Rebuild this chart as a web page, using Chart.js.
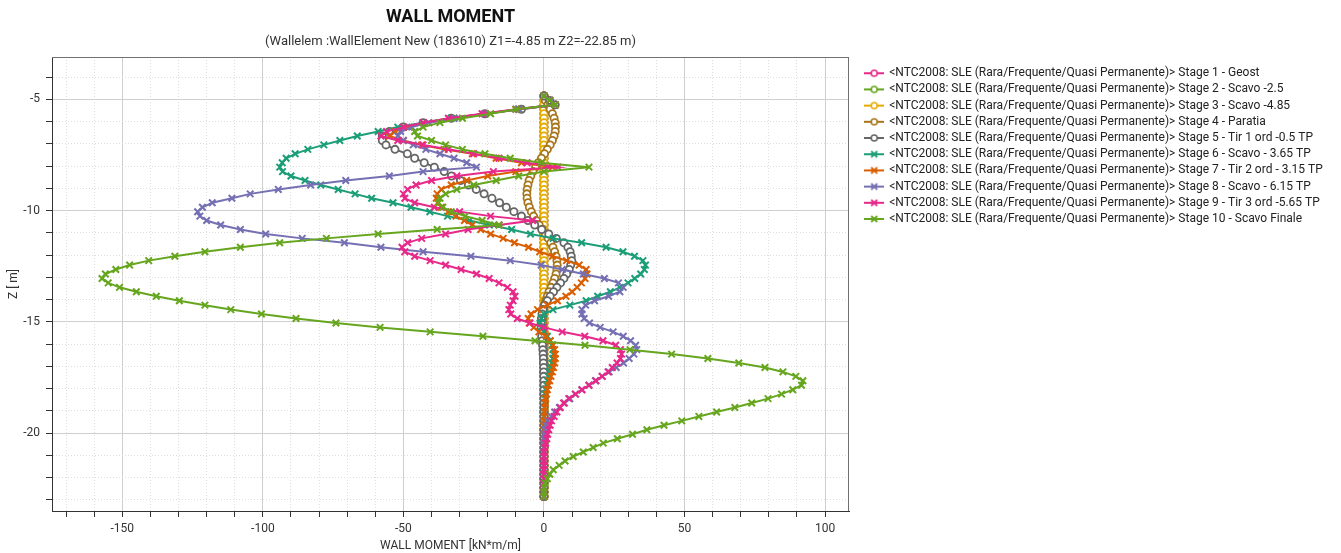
<!DOCTYPE html>
<html>
<head>
<meta charset="utf-8">
<title>Wall moment</title>
<script src="https://cdn.jsdelivr.net/npm/chart.js@4.4.1/dist/chart.umd.min.js"></script>
<style>
  html, body { margin: 0; padding: 0; background: #fff; }
  #wrap { width: 1341px; height: 553px; }
</style>
</head>
<body>
<div id="wrap"><canvas id="momentChart" width="1341" height="553"></canvas></div>
<script>
// Node depths along the wall [m]
const depth = [
  -4.85, -5.05, -5.25, -5.45, -5.65, -5.85, -6.05, -6.25, -6.45, -6.65,
  -6.85, -7.05, -7.25, -7.45, -7.65, -7.85, -8.05, -8.25, -8.45, -8.65,
  -8.85, -9.05, -9.25, -9.45, -9.65, -9.85, -10.05, -10.25, -10.45, -10.65,
  -10.85, -11.05, -11.25, -11.45, -11.65, -11.85, -12.05, -12.25, -12.45, -12.65,
  -12.85, -13.05, -13.25, -13.45, -13.65, -13.85, -14.05, -14.25, -14.45, -14.65,
  -14.85, -15.05, -15.25, -15.45, -15.65, -15.85, -16.05, -16.25, -16.45, -16.65,
  -16.85, -17.05, -17.25, -17.45, -17.65, -17.85, -18.05, -18.25, -18.45, -18.65,
  -18.85, -19.05, -19.25, -19.45, -19.65, -19.85, -20.05, -20.25, -20.45, -20.65,
  -20.85, -21.05, -21.25, -21.45, -21.65, -21.85, -22.05, -22.25, -22.45, -22.65,
  -22.85
];

// Bending moment per stage [kN*m/m], one value per node
const stage1 = [
  0, 0, 0, 0, 0, 0, 0, 0, 0, 0,
  0, 0, 0, 0, 0, 0, 0, 0, 0, 0,
  0, 0, 0, 0, 0, 0, 0, 0, 0, 0,
  0, 0, 0, 0, 0, 0, 0, 0, 0, 0,
  0, 0, 0, 0, 0, 0, 0, 0, 0, 0,
  0, 0, 0, 0, 0, 0, 0, 0, 0, 0,
  0, 0, 0, 0, 0, 0, 0, 0, 0, 0,
  0, 0, 0, 0, 0, 0, 0, 0, 0, 0,
  0, 0, 0, 0, 0, 0, 0, 0, 0, 0,
  0
];
const stage2 = [
  0, 0, 0, 0, 0, 0, 0, 0, 0, 0,
  0, 0, 0, 0, 0, 0, 0, 0, 0, 0,
  0, 0, 0, 0, 0, 0, 0, 0, 0, 0,
  0, 0, 0, 0, 0, 0, 0, 0, 0, 0,
  0, 0, 0, 0, 0, 0, 0, 0, 0, 0,
  0, 0, 0, 0, 0, 0, 0, 0, 0, 0,
  0, 0, 0, 0, 0, 0, 0, 0, 0, 0,
  0, 0, 0, 0, 0, 0, 0, 0, 0, 0,
  0, 0, 0, 0, 0, 0, 0, 0, 0, 0,
  0
];
const stage3 = [
  0, 0, 0, 0, 0, 0, 0, 0, 0, 0,
  0, 0, 0, 0, 0, 0, 0, 0, 0, 0,
  0, 0, 0, 0, 0, 0, 0, 0, 0, 0,
  0, 0, 0, 0, 0, 0, 0, 0, 0, 0,
  0, 0, 0, 0, 0, 0, 0, 0, 0, 0,
  0, 0, 0, 0, 0, 0, 0, 0, 0, 0,
  0, 0, 0, 0, 0, 0, 0, 0, 0, 0,
  0, 0, 0, 0, 0, 0, 0, 0, 0, 0,
  0, 0, 0, 0, 0, 0, 0, 0, 0, 0,
  0
];
const stage4 = [
  0, 0.5, 1.3, 2.2, 3.0, 3.6, 4.0, 4.1, 4.0, 3.6,
  3.0, 2.2, 1.2, 0.2, -0.9, -2.0, -3.0, -3.9, -4.7, -5.3,
  -5.7, -6.0, -6.1, -6.0, -5.7, -5.2, -4.5, -3.7, -2.7, -1.7,
  -0.6, 0.5, 1.5, 2.4, 3.2, 3.8, 4.3, 4.6, 4.7, 4.6,
  4.3, 3.8, 3.2, 2.5, 1.8, 1.2, 0.6, 0.2, -0.1, -0.3,
  -0.4, -0.4, -0.4, -0.3, -0.3, -0.2, -0.2, -0.1, -0.1, -0.1,
  0, 0, 0, 0, 0, 0, 0, 0, 0, 0,
  0, 0, 0, 0, 0, 0, 0, 0, 0, 0,
  0, 0, 0, 0, 0, 0, 0, 0, 0, 0,
  0
];
const stage5 = [
  0, 2, 4, -8, -21, -33, -43, -50, -55, -57.5,
  -57.5, -56.2, -53, -48.6, -46, -42.6, -39, -35.5, -32.9, -29.7,
  -26.9, -24.1, -21.3, -18.5, -15.8, -13.4, -10.7, -8, -5.7, -3.3,
  -0.8, 1.7, 4.4, 7.1, 8.5, 9.3, 9.7, 9.9, 9.5, 9.0,
  8.1, 7.1, 5.9, 4.6, 3.4, 2.2, 1.2, 0.2, -0.3, -0.7,
  -0.9, -1.0, -1.0, -0.9, -0.8, -0.6, -0.5, -0.4, -0.3, -0.2,
  -0.2, -0.1, -0.1, -0.1, 0, 0, 0, 0, 0, 0,
  0, 0, 0, 0, 0, 0, 0, 0, 0, 0,
  0, 0, 0, 0, 0, 0, 0, 0, 0, 0,
  0
];
const stage6 = [
  0, 2, 4, -9, -21, -33, -43, -52, -59, -66.4,
  -72.6, -78.3, -84, -88.5, -91.7, -93.1, -94, -93, -90, -85,
  -79.4, -73.2, -67.2, -61.3, -53.7, -47.3, -40.6, -34.3, -26.5, -19.4,
  -11.5, -4.8, 3.3, 13.4, 22.1, 28.1, 32.2, 35.2, 36.1, 35.7,
  34.4, 32.3, 29.9, 27, 23.6, 19.1, 15, 9.2, 3.2, 0,
  -0.9, -1.4, -1, 0, 1.2, 2.2, 2.8, 3.2, 3.3, 3.1,
  2.8, 2.4, 2.0, 1.6, 1.3, 1.0, 0.7, 0.5, 0.4, 0.3,
  0.2, 0.2, 0.1, 0.1, 0, 0, 0, 0, 0, 0,
  0, 0, 0, 0, 0, 0, 0, 0, 0, 0,
  0
];
const stage7 = [
  0, 2, 4, -9, -21, -32, -41, -48, -53, -55,
  -50, -43.5, -35.5, -25.5, -17, -8, 3, -10, -20, -27.5,
  -33, -36.5, -38, -38.3, -37.8, -36.5, -34, -31.3, -28.3, -25.5,
  -22.5, -19, -14.5, -10.5, -5.5, -1.5, 3, 8, 12.5, 15,
  15.3, 14.6, 13.3, 11.8, 10, 7.8, 4.8, 1.2, -2.3, -4.6,
  -5.6, -5.2, -3.6, -1.8, 0.8, 2.2, 3.2, 3.8, 4.0, 4.0,
  3.8, 3.4, 3.0, 2.5, 2.0, 1.6, 1.2, 0.9, 0.6, 0.4,
  0.3, 0.2, 0.1, 0, 0, 0, 0, 0, 0, 0,
  0, 0, 0, 0, 0, 0, 0, 0, 0, 0,
  0
];
const stage8 = [
  0, 2, 4, -9, -21, -32, -41, -47, -51, -52,
  -50, -46.5, -42, -37, -32, -27.5, -24, -43, -55, -70.5,
  -83, -94.5, -104.5, -111, -118, -121.5, -123.2, -122.4, -120, -115,
  -108, -99, -86, -71, -58, -43, -26, -12, -1, 6.5,
  14, 21.5, 26.5, 28.2, 27, 23, 18, 14.8, 13.5, 13.5,
  14.3, 16.2, 20, 24.6, 28.2, 30.8, 32.6, 33, 32, 30.3,
  28.3, 25.7, 23.2, 20.7, 18.3, 16, 13.5, 11.2, 9.2, 7.3,
  5.5, 3.8, 2.6, 1.4, 0.7, 0.3, 0.1, 0, 0, 0,
  0, 0, 0, 0, 0, 0, 0, 0, 0, 0,
  0
];
const stage9 = [
  0, 2, 4, -10, -22, -34, -43, -50, -56, -58,
  -52, -43, -34, -25, -16, -6, 5, -18, -31, -40,
  -45.5, -48.5, -50, -49.5, -46, -39, -30, -19, -4, -16,
  -27, -35, -43.5, -48.5, -50.5, -49.5, -46, -40.5, -35, -29.5,
  -24, -19.5, -16, -13, -11, -10.3, -11, -12, -12.5, -11.8,
  -9.5, -5, 0, 6.5, 14.5, 21, 25.5, 27.2, 27.6, 27.2,
  26, 24.3, 22.8, 20.7, 18.5, 16, 13.5, 11.2, 8.8, 7,
  5.8, 4.6, 3.6, 2.7, 2.2, 1.7, 1.3, 1.0, 0.6, 0.3,
  0.1, 0, 0, 0, 0, 0, 0, 0, 0, 0,
  0
];
const stage10 = [
  0, 2, 4, -10, -19, -29, -37, -43, -46, -45,
  -40, -35, -29, -21, -12, -1, 16, 0, -9, -17,
  -25, -31, -35, -37, -37.5, -36, -33, -28, -22, -16,
  -38, -59, -77.4, -94, -108, -120.6, -131.3, -140.6, -147.4, -152.3,
  -156, -157.2, -155, -151, -145, -137.9, -129.7, -120.6, -111.4, -100.5,
  -88.2, -74, -58.3, -40.5, -21.7, -3.2, 14.6, 30.6, 45.4, 58.3,
  69.3, 78.6, 85, 89.6, 92.1, 91.6, 88.5, 84.5, 79.7, 73.9,
  67.9, 61.4, 55.1, 49, 42.7, 36.6, 31.5, 26.1, 21.1, 17.5,
  14, 10.4, 7.5, 5.4, 3.3, 2.1, 1.2, 0.4, 0.1, 0,
  0
];

const stageNames = [
  '<NTC2008: SLE (Rara/Frequente/Quasi Permanente)> Stage 1 - Geost',
  '<NTC2008: SLE (Rara/Frequente/Quasi Permanente)> Stage 2 - Scavo -2.5',
  '<NTC2008: SLE (Rara/Frequente/Quasi Permanente)> Stage 3 - Scavo -4.85',
  '<NTC2008: SLE (Rara/Frequente/Quasi Permanente)> Stage 4 - Paratia',
  '<NTC2008: SLE (Rara/Frequente/Quasi Permanente)> Stage 5 - Tir 1 ord -0.5 TP',
  '<NTC2008: SLE (Rara/Frequente/Quasi Permanente)> Stage 6 - Scavo - 3.65 TP',
  '<NTC2008: SLE (Rara/Frequente/Quasi Permanente)> Stage 7 - Tir 2 ord - 3.15 TP',
  '<NTC2008: SLE (Rara/Frequente/Quasi Permanente)> Stage 8 - Scavo - 6.15 TP',
  '<NTC2008: SLE (Rara/Frequente/Quasi Permanente)> Stage 9 - Tir 3 ord -5.65 TP',
  '<NTC2008: SLE (Rara/Frequente/Quasi Permanente)> Stage 10 - Scavo Finale'
];
const stageColors = ['#e7298a', '#66a61e', '#e6ab02', '#a6761d', '#666666',
                     '#1b9e77', '#d95f02', '#7570b3', '#e7298a', '#66a61e'];
const stageMarkers = ['circle', 'circle', 'circle', 'circle', 'circle',
                      'crossRot', 'crossRot', 'crossRot', 'crossRot', 'crossRot'];

// Axis ticks (minor every 10 / 1, labelled every 50 / 5)
const xTicks = [-170, -160, -150, -140, -130, -120, -110, -100, -90, -80, -70, -60, -50, -40,
                -30, -20, -10, 0, 10, 20, 30, 40, 50, 60, 70, 80, 90, 100];
const xLabels = [-150, -100, -50, 0, 50, 100];
const yTicks = [-23, -22, -21, -20, -19, -18, -17, -16, -15, -14, -13, -12, -11, -10,
                -9, -8, -7, -6, -5, -4];
const yLabels = [-20, -15, -10, -5];

const stages = [stage1, stage2, stage3, stage4, stage5, stage6, stage7, stage8, stage9, stage10];

const FONT = 'Roboto, "Liberation Sans", sans-serif';
Chart.defaults.font.family = FONT;
Chart.defaults.color = '#333';

// little line+marker icons for the legend
function legendIcon(color, marker) {
  const c = document.createElement('canvas');
  c.width = 20; c.height = 10;
  const g = c.getContext('2d');
  g.strokeStyle = color;
  g.lineWidth = 2;
  g.beginPath(); g.moveTo(0, 5); g.lineTo(20, 5); g.stroke();
  if (marker === 'circle') {
    g.fillStyle = '#fff';
    g.lineWidth = 1.6;
    g.beginPath(); g.arc(10, 5, 3, 0, Math.PI * 2); g.fill(); g.stroke();
  } else {
    g.lineWidth = 1.8;
    g.beginPath();
    g.moveTo(7, 2); g.lineTo(13, 8);
    g.moveTo(13, 2); g.lineTo(7, 8);
    g.stroke();
  }
  return c;
}
const legendIcons = stageColors.map((c, i) => legendIcon(c, stageMarkers[i]));

const datasets = stages.map((values, i) => ({
  label: stageNames[i],
  data: depth.map((z, k) => ({ x: values[k], y: z })),
  borderColor: stageColors[i],
  backgroundColor: stageColors[i],
  pointStyle: stageMarkers[i],
  pointBorderColor: stageColors[i],
  pointBackgroundColor: '#ffffff',
  pointRadius: i < 5 ? 3.6 : 4.6,
  pointBorderWidth: i < 5 ? 1.8 : 2,
  borderWidth: 2,
  showLine: true,
  tension: 0,
  order: stages.length - i   // later stages drawn on top
}));

// top and right edges of the plot frame
const plotFrame = {
  id: 'plotFrame',
  afterDatasetsDraw(chart) {
    const { ctx, chartArea: a } = chart;
    ctx.save();
    ctx.strokeStyle = '#707070';
    ctx.lineWidth = 1;
    ctx.beginPath();
    ctx.moveTo(a.left, a.top + 0.5); ctx.lineTo(a.right, a.top + 0.5);
    ctx.moveTo(a.right - 0.5, a.top); ctx.lineTo(a.right - 0.5, a.bottom);
    ctx.stroke();
    ctx.restore();
  }
};

// fixed legend column on the right
const legendPlacement = {
  id: 'legendPlacement',
  beforeLayout(chart) {
    const legend = chart.legend;
    if (legend && !legend._fixedWidth) {
      const fit = legend.fit;
      legend.fit = function () { fit.call(this); this.width = 492; };
      legend._fixedWidth = true;
    }
  },
  afterLayout(chart) {
    const legend = chart.legend;
    legend.left += 12; legend.right += 12;
    legend.top += 6; legend.bottom += 6;
  }
};

const gridColor = (ctx, labels) =>
  ctx.tick && labels.includes(ctx.tick.value) ? '#cfcfcf' : '#dedede';

new Chart(document.getElementById('momentChart'), {
  type: 'scatter',
  data: { datasets },
  options: {
    responsive: false,
    animation: false,
    events: [],
    layout: { padding: 0 },
    scales: {
      x: {
        type: 'linear',
        min: -175,
        max: 108.5,
        afterBuildTicks: (scale) => { scale.ticks = xTicks.map(v => ({ value: v })); },
        afterFit: (scale) => { scale.height = 42; },
        ticks: {
          autoSkip: false,
          maxRotation: 0,
          padding: 5,
          color: '#333',
          font: { size: 12 },
          callback: (v) => xLabels.includes(v) ? String(v) : ''
        },
        grid: {
          color: (ctx) => gridColor(ctx, xLabels),
          lineWidth: 1,
          tickLength: 6,
          tickColor: '#333'
        },
        border: {
          color: '#333',
          width: 1,
          dash: (ctx) => ctx.tick && !xLabels.includes(ctx.tick.value) ? [1, 2] : []
        },
        title: {
          display: true,
          text: 'WALL MOMENT [kN*m/m]',
          color: '#333',
          font: { size: 12 },
          padding: { top: 0, bottom: 0 }
        }
      },
      y: {
        type: 'linear',
        min: -23.5,
        max: -3.1,
        afterBuildTicks: (scale) => { scale.ticks = yTicks.map(v => ({ value: v })); },
        afterFit: (scale) => { scale.width = 52; },
        ticks: {
          autoSkip: false,
          padding: 6,
          color: '#333',
          font: { size: 12 },
          callback: (v) => yLabels.includes(v) ? String(v) : ''
        },
        grid: {
          color: (ctx) => gridColor(ctx, yLabels),
          lineWidth: 1,
          tickLength: 6,
          tickColor: '#333'
        },
        border: {
          color: '#333',
          width: 1,
          dash: (ctx) => ctx.tick && !yLabels.includes(ctx.tick.value) ? [1, 2] : []
        },
        title: {
          display: true,
          text: 'Z [ m]',
          color: '#333',
          font: { size: 12 },
          padding: { top: 7, bottom: 0 }
        }
      }
    },
    plugins: {
      title: {
        display: true,
        fullSize: false,
        text: 'WALL MOMENT',
        color: '#111',
        font: { size: 18, weight: 'bold' },
        padding: { top: 7, bottom: 3 }
      },
      subtitle: {
        display: true,
        fullSize: false,
        text: '(Wallelem :WallElement New (183610) Z1=-4.85 m Z2=-22.85 m)',
        color: '#333',
        font: { size: 13 },
        padding: { top: 2, bottom: 7.8 }
      },
      legend: {
        position: 'right',
        align: 'start',
        fullSize: false,
        labels: {
          usePointStyle: true,
          pointStyleWidth: 18,
          boxHeight: 10,
          padding: 4.2,
          color: '#222',
          font: { size: 12 },
          sort: (a, b) => a.datasetIndex - b.datasetIndex,
          generateLabels(chart) {
            const items = Chart.defaults.plugins.legend.labels.generateLabels(chart);
            items.forEach(item => { item.pointStyle = legendIcons[item.datasetIndex]; });
            return items;
          }
        }
      },
      tooltip: { enabled: false }
    }
  },
  plugins: [plotFrame, legendPlacement]
});
</script>
</body>
</html>
